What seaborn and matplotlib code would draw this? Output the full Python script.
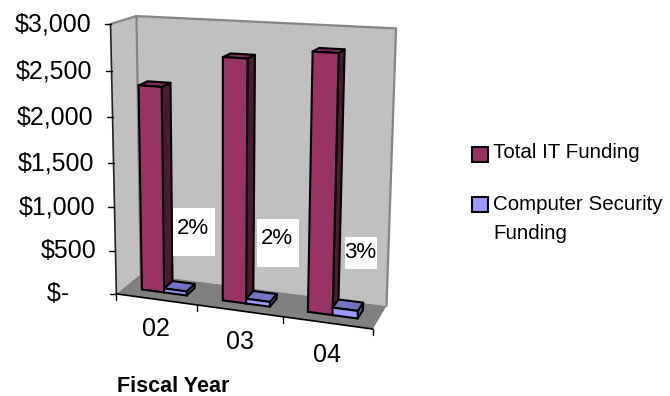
import numpy as np
import pandas as pd
import matplotlib
matplotlib.use("Agg")
import matplotlib.pyplot as plt
from matplotlib.patches import Polygon, Rectangle, Patch
from matplotlib.transforms import Transform
import seaborn as sns

# ---- data ----
fiscal_years = ["02", "03", "04"]
total_it_funding = [2320, 2680, 2790]
computer_security_funding = [47, 54, 84]
share_labels = ["2%", "2%", "3%"]
value_ticks = [0, 500, 1000, 1500, 2000, 2500, 3000]
value_tick_labels = ["$-    ", "$500", "$1,000", "$1,500", "$2,000", "$2,500", "$3,000"]
series_names = ["Total IT Funding", "Computer Security\nFunding"]

# ---- styles ----
IT_FRONT, IT_TOP, IT_SIDE = "#993366", "#7D2A58", "#4D1A33"
SEC_FRONT, SEC_TOP, SEC_SIDE = "#9999FF", "#7373C4", "#6060A8"
WALL, WALL_EDGE, FLOOR = "#C0C0C0", "#858585", "#808080"
BAR_DEPTH = (0.33, 0.70)
CLUSTER_WIDTH = 0.56
W, H = 670, 396

# Camera of the oblique view: cube corners (category, value, depth) and where they land.
cube = np.array([(0, 3000, 0), (0, 0, 0), (3, 0, 0), (0, 3000, 1),
                 (3, 3000, 1), (3, 0, 1), (0, 0, 1)], float)
screen = np.array([(110, 24), (117, 293), (372.7, 330), (137, 16),
                   (396, 28.5), (386.7, 305), (140, 275)], float)


def fit_camera(world, image):
    rows, rhs = [], []
    for (x, v, d), (u, t) in zip(world, image):
        v = v / 3000
        rows.append([x, v, d, 1, 0, 0, 0, 0, -u * x, -u * v, -u * d])
        rows.append([0, 0, 0, 0, x, v, d, 1, -t * x, -t * v, -t * d])
        rhs += [u, t]
    sol = np.linalg.lstsq(np.array(rows), np.array(rhs), rcond=None)[0]
    return np.append(sol, 1.0).reshape(3, 4)


CAMERA = fit_camera(cube, screen)


def project(x, v, d):
    """Scene position to canvas pixels."""
    x, v, d = np.broadcast_arrays(np.asarray(x, float), np.asarray(v, float), np.asarray(d, float))
    pts = np.stack([x, v / 3000, d, np.ones_like(x)], axis=-1) @ CAMERA.T
    return pts[..., :2] / pts[..., 2:3]


class DepthPlane(Transform):
    """Maps (category slot, value) on a constant-depth plane to canvas pixels."""
    input_dims = output_dims = 2

    def __init__(self, plane_depth):
        super().__init__()
        self.plane_depth = plane_depth

    def transform_non_affine(self, xy):
        xy = np.asarray(xy, float)
        return project(xy[:, 0] + 0.5, xy[:, 1], self.plane_depth)


sns.set_theme(style="white")
plt.rcParams["font.family"] = ["Liberation Sans", "DejaVu Sans"]

frame = pd.DataFrame({
    "year": fiscal_years * 2,
    "funding": total_it_funding + computer_security_funding,
    "series": [series_names[0]] * 3 + [series_names[1]] * 3,
})

fig = plt.figure(figsize=(W / 100, H / 100), dpi=100, facecolor="white")
ax = fig.add_axes([0, 0, 1, 1])
sns.barplot(data=frame, x="year", y="funding", hue="series", order=fiscal_years,
            hue_order=series_names, palette=[IT_FRONT, SEC_FRONT], width=CLUSTER_WIDTH,
            gap=0, errorbar=None, legend=False, saturation=1, ax=ax,
            edgecolor="black", linewidth=1.5)
bars = list(ax.patches)
ax.set_xlim(0, W)
ax.set_ylim(H, 0)
ax.axis("off")


def face(pts, color, edge="none", lw=0, z=1):
    ax.add_patch(Polygon(np.asarray(pts), closed=True, facecolor=color, edgecolor=edge,
                         linewidth=lw, zorder=z, joinstyle="round", clip_on=False))


# Walls and floor of the box
top, n = value_ticks[-1], len(fiscal_years)
face(project([0, n, n, 0], [top, top, 0, 0], 1), WALL, z=0.1)
face(project(0, [top, top, 0, 0], [0, 1, 1, 0]), WALL, z=0.1)
face(project([0, n, n, 0], 0, [0, 0, 1, 1]), FLOOR, z=0.2)
for pts in (project([0, 0, n, n], [top, top, top, 0], [0, 1, 1, 1]),
            project(0, [top, 0], 1)):
    ax.plot(*pts.T, color=WALL_EDGE, lw=1.6, zorder=0.3, solid_capstyle="round")

# Axis lines and ticks
ax.plot(*project(0, [0, top], 0).T, color="#222222", lw=1.2, zorder=0.4)
ax.plot(*project([0, n], 0, 0).T, color="black", lw=1.2, zorder=0.4)
for tick, text in zip(value_ticks, value_tick_labels):
    x0, y0 = project(0, tick, 0)
    ax.plot([x0 - 6, x0], [y0, y0], color="black", lw=1.0, zorder=0.4)
    ax.text(x0 - 19, y0 + 0.5, text, ha="right", va="center", fontsize=18, color="black")
for slot in range(n + 1):
    x0, y0 = project(slot, 0, 0)
    ax.plot([x0, x0], [y0, y0 + 6], color="black", lw=1.0, zorder=0.4)
for slot, text in enumerate(fiscal_years):
    x0, y0 = project(slot + 0.5, 0, 0)
    ax.text(x0, y0 + 30 + slot, text, ha="center", va="center", fontsize=18, color="black")
ax.text(173.5, 386.5, "Fiscal Year", ha="center", va="center", fontsize=15.5,
        fontweight="bold", color="black")

# Extrude each bar drawn by seaborn onto the oblique view
d0, d1 = BAR_DEPTH
front_plane = DepthPlane(d0)
for i, bar in enumerate(bars):
    x_left = bar.get_x() + 0.5
    x_right = x_left + bar.get_width()
    value = bar.get_height()
    is_it = i < n
    base = 1 + (i % n) * 3 + (0 if is_it else 1.5)
    top_c, side_c = (IT_TOP, IT_SIDE) if is_it else (SEC_TOP, SEC_SIDE)
    face(project(x_right, [0, value, value, 0], [d0, d0, d1, d1]), side_c, "black", 1.5, base)
    face(project([x_left, x_right, x_right, x_left], value, [d0, d0, d1, d1]), top_c, "black", 1.5, base)
    bar.set_transform(front_plane + ax.transData)
    bar.set_zorder(base + 0.5)
    bar.set_clip_on(False)

# Share labels on white plates
plates = [(173, 208, 42, 48), (257, 219, 42, 48), (345, 237, 32, 32)]
anchors = [(193, 228), (277, 238), (360.5, 252)]
for (px, py, pw, ph), (tx, ty), text in zip(plates, anchors, share_labels):
    ax.add_patch(Rectangle((px, py), pw, ph, facecolor="white", edgecolor="none", zorder=20))
    ax.text(tx, ty, text, ha="center", va="center", fontsize=16, color="black", zorder=21)

# Legend
handles = [Patch(facecolor=IT_FRONT, edgecolor="black", linewidth=1.5),
           Patch(facecolor=SEC_FRONT, edgecolor="black", linewidth=1.5)]
legend = ax.legend(handles, series_names, loc="upper left", bbox_to_anchor=(472, 143),
                   bbox_transform=ax.transData, frameon=False, fontsize=14.8, borderpad=0,
                   borderaxespad=0, handlelength=0.76, handleheight=0.76, handletextpad=0.28,
                   labelspacing=1.6, labelcolor="black")
legend.get_texts()[1].set_linespacing(1.68)
first_handle, second_handle = legend.legend_handles
first_handle.set_y(first_handle.get_y() - 2.5)
second_handle.set_y(second_handle.get_y() + 10.7)

fig.savefig("out.png", dpi=100)
